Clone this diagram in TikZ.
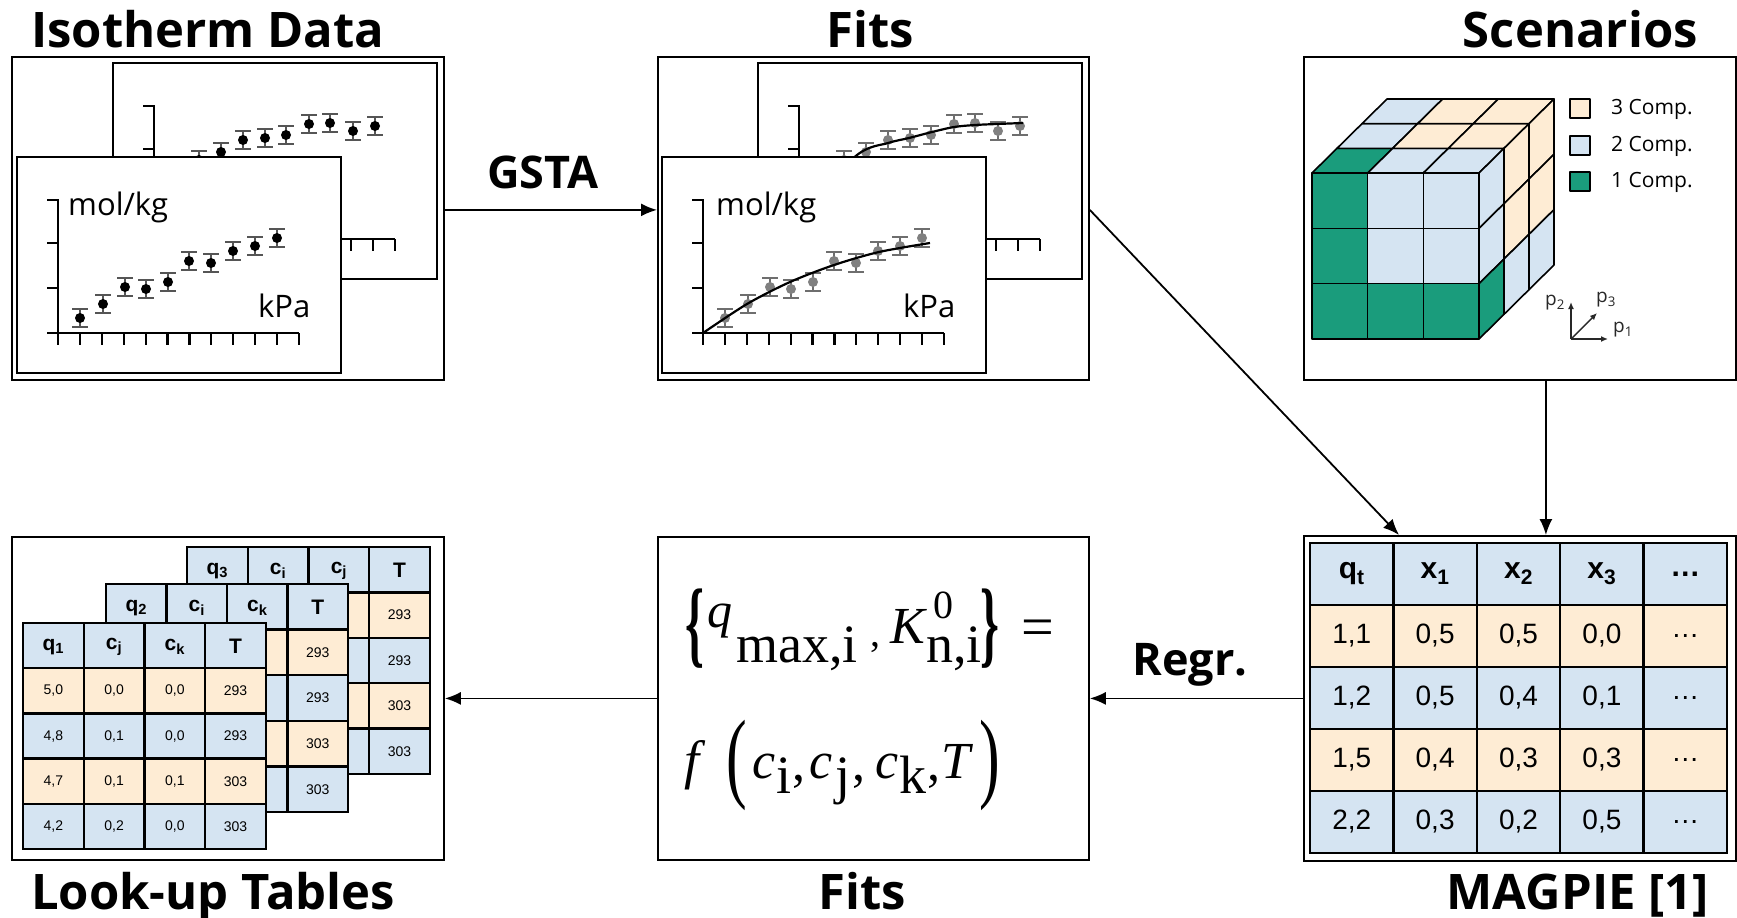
\documentclass[tikz,border=0pt]{standalone}
\usepackage[no-math]{fontspec}
\usepackage{graphicx}
\setmainfont{Open Sans}
\newfontfamily\arialf{Liberation Sans}
\newfontfamily\serf{Liberation Serif}
\usetikzlibrary{arrows.meta}
\definecolor{cgreen}{RGB}{26,156,124}
\definecolor{cblue}{RGB}{213,228,242}
\definecolor{ccream}{RGB}{254,236,212}
\definecolor{ebarA}{RGB}{85,85,85}
\definecolor{ebarB}{RGB}{110,110,110}
\definecolor{ptB}{RGB}{128,128,128}
\definecolor{axgray}{RGB}{40,40,40}
\tikzset{
 box/.style={draw, line width=1.8pt, fill=white, inner sep=0pt, anchor=north west},
 pframe/.style={draw, line width=2.8pt, fill=white},
 pax/.style={line width=2.2pt},
 arr/.style={line width=1.8pt, -{Latex[length=16pt,width=13pt]}},
 ttl/.style={font=\bfseries\fontsize{49}{56}\selectfont, inner sep=0pt},
 lbl/.style={font=\bfseries\fontsize{45}{50}\selectfont, inner sep=0pt, anchor=base},
 unitlbl/.style={font=\fontsize{31}{36}\selectfont, inner sep=0pt, anchor=base west},
 cube/.style={draw, line width=1.6pt, line join=round},
 tline/.style={draw, line width=2.4pt},
 legtxt/.style={font=\fontsize{21}{24}\selectfont, anchor=west, inner sep=0pt},
 axlbl/.style={font=\fontsize{19}{22}\selectfont, inner sep=0pt, text=axgray},
 mhead/.style={font=\arialf\bfseries\fontsize{30}{34}\selectfont, inner sep=0pt},
 mbody/.style={font=\arialf\fontsize{28}{32}\selectfont, inner sep=0pt},
 lhead/.style={font=\arialf\bfseries\fontsize{21}{24}\selectfont, inner sep=0pt},
 lbody/.style={font=\arialf\fontsize{14}{16}\selectfont, inner sep=0pt},
 fm/.style={inner sep=0pt, anchor=base west},
 fit/.style={fm, font=\serf\itshape\fontsize{#1}{#1}\selectfont},
 fup/.style={fm, font=\serf\fontsize{#1}{#1}\selectfont},
}
\newcommand\plotbase{%
  \draw[pframe] (0,0) rectangle (324,216);
  \draw[pax] (30,43) -- (41,43) -- (41,176);
  \draw[pax] (30,86) -- (41,86) (30,131) -- (41,131);
  \draw[pax] (30,176) -- (282,176);
  \foreach \k in {0,...,11} \draw[pax] ({41+21.9*\k},176) -- ++(0,12);
}
\newcommand\pts[3]{%
  \foreach \px/\py in #3 {
    \draw[draw=#1, line width=2.6pt] ({\px-8},{\py-9}) -- ({\px+8},{\py-9}) ({\px-8},{\py+9}) -- ({\px+8},{\py+9});
    \draw[draw=#1, line width=2pt] (\px,{\py-9}) -- (\px,{\py+9});
    \fill[#2] (\px,\py) circle[radius=5pt];
  }
}
\def\frontdata{63/161,86/147,108/130,129/132,151/125,172/104,194/106,216/94,238/89,260/81}
\def\backdata{63/105,86/97,108/89,130/77,152/75,173/72,196/61,217/60,240/68,262/63}
\newcommand\tgrid[5]{% x0 y0 colw rowh lastcol
  \foreach \r/\col in {0/cblue,1/ccream,2/cblue,3/ccream,4/cblue}
    \foreach \c in {0,...,#5}
      \filldraw[tline, fill=\col] ({#1+#3*\c},{#2+#4*\r}) rectangle ++(#3,#4);
}
\begin{document}
\begin{tikzpicture}[x=1pt,y=-1pt]
\useasboundingbox[fill=white] (0,0) rectangle (1737,918);

% ---------- main boxes
\node[box, minimum width=432pt, minimum height=323pt] (iso) at (11,56) {};
\node[box, minimum width=431pt, minimum height=323pt] (fitt) at (657,56) {};
\node[box, minimum width=432pt, minimum height=323pt] (scen) at (1303,56) {};
\node[box, minimum width=432pt, minimum height=323pt] (lut) at (11,536) {};
\node[box, minimum width=431pt, minimum height=323pt] (fitb) at (657,536) {};
\node[box, minimum width=432pt, minimum height=325pt] (mag) at (1303,535) {};

% ---------- titles
\node[ttl, anchor=base west] (t1) at (31,47) {Isotherm Data};
\node[ttl, anchor=base] (t2) at (870,47) {Fits};
\node[ttl, anchor=base east] (t3) at (1698,47) {Scenarios};
\node[ttl, anchor=base west] (t4) at (31,909) {Look-up Tables};
\node[ttl, anchor=base] (t5) at (862,909) {Fits};
\node[ttl, anchor=base east] (t6) at (1709,909) {MAGPIE [1]};

% ---------- isotherm data plots
\begin{scope}[shift={(113,63)}]
  \plotbase
  \pts{ebarA}{black}{\backdata}
\end{scope}
\begin{scope}[shift={(17,157)}]
  \plotbase
  \pts{ebarA}{black}{\frontdata}
  \node[unitlbl] (iu1) at (51,58) {mol/kg};
  \node[unitlbl] (iu2) at (241,160) {kPa};
\end{scope}

% ---------- fit plots
\begin{scope}[shift={(758,63)}]
  \plotbase
  \pts{ebarB}{ptB}{\backdata}
  \draw[line width=2.2pt] plot[smooth] coordinates {(41,150) (99,92) (130,80) (151,75) (174,69) (196,64) (217,62) (239,61) (265,60)};
\end{scope}
\begin{scope}[shift={(662,157)}]
  \plotbase
  \pts{ebarB}{ptB}{\frontdata}
  \draw[line width=2.2pt] plot[smooth] coordinates {(41,176) (85,147) (128,125) (172,108) (217,95) (268,86)};
  \node[unitlbl] (fu1) at (54,58) {mol/kg};
  \node[unitlbl] (fu2) at (241,160) {kPa};
\end{scope}

% ---------- scenarios cube
\def\cx{1312}\def\cy{173}\def\cw{55.67}\def\ch{55.33}\def\ddx{25}\def\ddy{24.67}
\foreach \c/\r/\col in {0/0/cgreen,1/0/cblue,2/0/cblue,0/1/cgreen,1/1/cblue,2/1/cblue,0/2/cgreen,1/2/cgreen,2/2/cgreen}
  \filldraw[cube, fill=\col] ({\cx+\c*\cw},{\cy+\r*\ch}) rectangle ++(\cw,\ch);
\foreach \c/\d/\col in {0/0/cgreen,1/0/cblue,2/0/cblue,0/1/cblue,1/1/ccream,2/1/ccream,0/2/cblue,1/2/ccream,2/2/ccream}
  \filldraw[cube, fill=\col] ({\cx+\c*\cw+\d*\ddx},{\cy-\d*\ddy}) -- ++(\cw,0) -- ++(\ddx,-\ddy) -- ++(-\cw,0) -- cycle;
\foreach \d/\r/\col in {0/0/cblue,0/1/cblue,0/2/cgreen,1/0/ccream,1/1/ccream,1/2/cblue,2/0/ccream,2/1/ccream,2/2/cblue}
  \filldraw[cube, fill=\col] ({\cx+3*\cw+\d*\ddx},{\cy+\r*\ch-\d*\ddy}) -- ++(\ddx,-\ddy) -- ++(0,\ch) -- ++(-\ddx,\ddy) -- cycle;
% legend
\filldraw[cube, fill=ccream] (1570,99) rectangle (1590,118);
\filldraw[cube, fill=cblue] (1570,136) rectangle (1590,155);
\filldraw[cube, fill=cgreen] (1570,172) rectangle (1590,191);
\node[legtxt] (lg3) at (1611,109) {3 Comp.};
\node[legtxt] (lg2) at (1611,146) {2 Comp.};
\node[legtxt] (lg1) at (1611,182) {1 Comp.};
% axes symbol
\coordinate (ax0) at (1571,339);
\coordinate (axp1) at (1608,339);
\coordinate (axp2) at (1571,302);
\coordinate (axp3) at (1597,313);
\draw[line width=1.4pt, draw=axgray, -{Latex[length=7pt,width=6pt]}] (ax0) -- (axp1);
\draw[line width=1.4pt, draw=axgray, -{Latex[length=7pt,width=6pt]}] (ax0) -- (axp2);
\draw[line width=1.4pt, draw=axgray, -{Latex[length=7pt,width=6pt]}] (ax0) -- (axp3);
\node[axlbl] (lp2) at (1555,303) {p\textsubscript{2}};
\node[axlbl] (lp3) at (1606,300) {p\textsubscript{3}};
\node[axlbl] (lp1) at (1623,330) {p\textsubscript{1}};

% ---------- MAGPIE table
\tgrid{1310}{543}{83.4}{62}{4}
\node[mhead] (mh0) at (1351.7,574) {q\textsubscript{t}};
\node[mhead] (mh1) at (1435.1,574) {x\textsubscript{1}};
\node[mhead] (mh2) at (1518.5,574) {x\textsubscript{2}};
\node[mhead] (mh3) at (1601.9,574) {x\textsubscript{3}};
\node[mhead] (mh4) at (1685.3,574) {…};
\newcommand\mrow[6]{%
  \node[mbody] (m#1a) at (1351.7,{574+62*#1}) {#2};
  \node[mbody] (m#1b) at (1435.1,{574+62*#1}) {#3};
  \node[mbody] (m#1c) at (1518.5,{574+62*#1}) {#4};
  \node[mbody] (m#1d) at (1601.9,{574+62*#1}) {#5};
  \node[mbody] (m#1e) at (1685.3,{574+62*#1}) {#6};
}
\mrow{1}{1,1}{0,5}{0,5}{0,0}{…}
\mrow{2}{1,2}{0,5}{0,4}{0,1}{…}
\mrow{3}{1,5}{0,4}{0,3}{0,3}{…}
\mrow{4}{2,2}{0,3}{0,2}{0,5}{…}

% ---------- look-up tables
\tgrid{187}{547}{60.75}{45.4}{3}
\node[lhead] (bh0) at (217.4,571) {q\textsubscript{3}};
\node[lhead] (bh1) at (278.1,571) {c\textsubscript{i}};
\node[lhead] (bh2) at (338.9,571) {c\textsubscript{j}};
\node[lhead] (bh3) at (399.6,570) {T};
\node[lbody] (bt1) at (399.6,{547+45.4*1.5}) {293};
\node[lbody] (bt2) at (399.6,{547+45.4*2.5}) {293};
\node[lbody] (bt3) at (399.6,{547+45.4*3.5}) {303};
\node[lbody] (bt4) at (399.6,{547+45.4*4.5}) {303};
\tgrid{106}{584}{60.5}{45.6}{3}
\node[lhead] (mh0l) at (136.3,608) {q\textsubscript{2}};
\node[lhead] (mh1l) at (196.8,608) {c\textsubscript{i}};
\node[lhead] (mh2l) at (257.3,608) {c\textsubscript{k}};
\node[lhead] (mh3l) at (317.8,607) {T};
\node[lbody] (mt1) at (317.8,{584+45.6*1.5}) {293};
\node[lbody] (mt2) at (317.8,{584+45.6*2.5}) {293};
\node[lbody] (mt3) at (317.8,{584+45.6*3.5}) {303};
\node[lbody] (mt4) at (317.8,{584+45.6*4.5}) {303};
\tgrid{23}{623}{60.75}{45.2}{3}
\node[lhead] (fh0) at (53.4,647) {q\textsubscript{1}};
\node[lhead] (fh1) at (114.1,647) {c\textsubscript{j}};
\node[lhead] (fh2) at (174.9,647) {c\textsubscript{k}};
\node[lhead] (fh3) at (235.6,646) {T};
\newcommand\lrow[5]{%
  \node[lbody] (l#1a) at (53.4,{623+45.2*(#1+0.5)}) {#2};
  \node[lbody] (l#1b) at (114.1,{623+45.2*(#1+0.5)}) {#3};
  \node[lbody] (l#1c) at (174.9,{623+45.2*(#1+0.5)}) {#4};
  \node[lbody] (l#1d) at (235.6,{623+45.2*(#1+0.5)}) {#5};
}
\lrow{1}{5,0}{0,0}{0,0}{293}
\lrow{2}{4,8}{0,1}{0,0}{293}
\lrow{3}{4,7}{0,1}{0,1}{303}
\lrow{4}{4,2}{0,2}{0,0}{303}

% ---------- formula, line 1
\node[fup=96] (f1a) at (685,655) {\scalebox{0.5}[1]{\bfseries\{}};
\node[fit=50] (f1b) at (707,627) {q};
\node[fup=54] (f1c) at (736,662) {max,i};
\node[fup=40] (f1d) at (870,646) {,};
\node[fit=52] (f1e) at (890,643) {K};
\node[fup=40] (f1f) at (933,618) {0};
\node[fup=54] (f1g) at (926,662) {n,i};
\node[fup=96] (f1h) at (980,655) {\scalebox{0.5}[1]{\bfseries\}}};
\node[fup=58] (f1i) at (1021,646) {=};
% ---------- formula, line 2
\node[fit=54] (f2a) at (684,778) {f};
\node[fup=100] (f2b) at (726,789) {\scalebox{0.62}[1]{(}};
\node[fit=52] (f2c) at (752,778) {c};
\node[fup=54] (f2d) at (776,793) {i};
\node[fup=52] (f2e) at (792,780) {,};
\node[fit=52] (f2f) at (809,778) {c};
\node[fup=54] (f2g) at (835,793) {j};
\node[fup=52] (f2h) at (852,780) {,};
\node[fit=52] (f2i) at (875,778) {c};
\node[fup=54] (f2j) at (899,793) {k};
\node[fup=52] (f2k) at (927,780) {,};
\node[fit=52] (f2l) at (941,778) {T};
\node[fup=100] (f2m) at (979,789) {\scalebox{0.62}[1]{)}};

% ---------- connectors
\draw[arr] ([yshift=8.5pt]iso.east) -- ([yshift=8.5pt]fitt.west);
\draw[arr] ([yshift=8.5pt]fitt.east) -- ([xshift=96pt]mag.north west);
\draw[arr] ([xshift=26pt]scen.south) -- ([xshift=26pt]mag.north);
\draw[arr] (mag.west) -- (fitb.east);
\draw[arr] (fitb.west) -- (lut.east);
\node[lbl] (gsta) at (543,188) {GSTA};
\node[lbl] (regr) at (1190,675) {Regr.};
\end{tikzpicture}
\end{document}
